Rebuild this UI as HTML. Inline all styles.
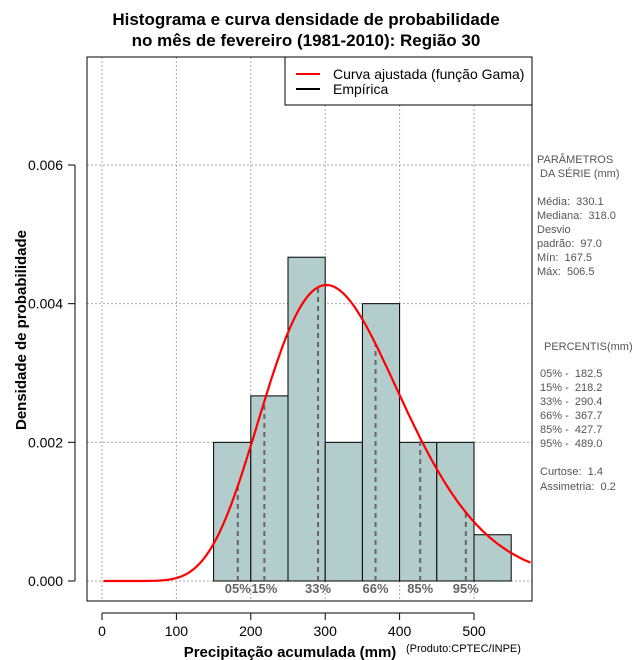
<!DOCTYPE html>
<html><head><meta charset="utf-8">
<style>
body{margin:0;background:#fff;}
svg{display:block;font-family:"Liberation Sans",sans-serif;}
text{white-space:pre;}
</style></head>
<body>
<svg id="chart" width="640" height="660" viewBox="0 0 640 660" xml:space="preserve">
<g id="grid"></g>
<g id="bars"></g>
<g id="pcts"></g>
<path id="curve" fill="none" stroke="#ff0000" stroke-width="2.2"/>
<rect x="87" y="57" width="445" height="544" fill="none" stroke="#000"/>
<g id="axes"></g>
<g font-weight="bold" font-size="17" text-anchor="middle">
<text x="306" y="25">Histograma e curva densidade de probabilidade</text>
<text x="306" y="46">no mês de fevereiro (1981-2010): Região 30</text>
</g>
<text x="290" y="657" font-size="15" font-weight="bold" text-anchor="middle">Precipitação acumulada (mm)</text>
<text x="406" y="652" font-size="11">(Produto:CPTEC/INPE)</text>
<text transform="translate(26,330) rotate(-90)" font-size="15" font-weight="bold" text-anchor="middle">Densidade de probabilidade</text>
<g>
<rect x="285" y="57" width="247" height="48" fill="#fff" stroke="#000"/>
<line x1="296" y1="74" x2="320" y2="74" stroke="#ff0000" stroke-width="2"/>
<line x1="296" y1="89" x2="320" y2="89" stroke="#000" stroke-width="2"/>
<text x="333" y="79" font-size="14">Curva ajustada (função Gama)</text>
<text x="333" y="94" font-size="14">Empírica</text>
</g>
<g font-size="11" fill="#555">
<text x="537" y="163">PARÂMETROS</text>
<text x="537" y="177"> DA SÉRIE (mm)</text>
<text x="537" y="205">Média:  330.1</text>
<text x="537" y="219">Mediana:  318.0</text>
<text x="537" y="233">Desvio</text>
<text x="537" y="247">padrão:  97.0</text>
<text x="537" y="261">Mín:  167.5</text>
<text x="537" y="275">Máx:  506.5</text>
<text x="544" y="350">PERCENTIS(mm)</text>
<text x="540" y="377">05% -  182.5</text>
<text x="540" y="391">15% -  218.2</text>
<text x="540" y="405">33% -  290.4</text>
<text x="540" y="419">66% -  367.7</text>
<text x="540" y="433">85% -  427.7</text>
<text x="540" y="447">95% -  489.0</text>
<text x="540" y="475">Curtose:  1.4</text>
<text x="540" y="490">Assimetria:  0.2</text>
</g>
</svg>
<script>
const binStarts=[150,200,250,300,350,400,450,500];
const binWidth=50;
const densities=[0.002,0.00267,0.00467,0.002,0.004,0.002,0.002,0.000667];
const pctLabels=["05%","15%","33%","66%","85%","95%"];
const pctValues=[182.5,218.2,290.4,367.7,427.7,489.0];
const seriesMean=[330.1];
const seriesSd=[97.0];
const xTicks=[0,100,200,300,400,500];
const yTicks=[0,0.002,0.004,0.006];
const yTickLabels=["0.000","0.002","0.004","0.006"];

const NS="http://www.w3.org/2000/svg";
const X=v=>102+v*0.744;
const Y=v=>581-v*69333;
function mk(tag,attrs,parent){const e=document.createElementNS(NS,tag);for(const k in attrs)e.setAttribute(k,attrs[k]);parent.appendChild(e);return e;}
const k=Math.pow(seriesMean[0]/seriesSd[0],2), th=seriesSd[0]*seriesSd[0]/seriesMean[0];
function lgamma(z){const g=[76.18009172947146,-86.50532032941677,24.01409824083091,-1.231739572450155,0.1208650973866179e-2,-0.5395239384953e-5];let x=z,y=z,t=x+5.5;t-=(x+0.5)*Math.log(t);let s=1.000000000190015;for(let j=0;j<6;j++)s+=g[j]/++y;return -t+Math.log(2.5066282746310005*s/x);}
const lg=lgamma(k);
function pdf(x){if(x<=0)return 0;return Math.exp((k-1)*Math.log(x)-x/th-lg-k*Math.log(th));}

const grid=document.getElementById('grid');
xTicks.forEach(t=>{const l=mk('line',{x1:X(t),x2:X(t),y1:57,y2:601,stroke:'#aaa','stroke-dasharray':'2,2'},grid);

});
yTicks.forEach(t=>{const l=mk('line',{x1:87,x2:532,y1:Y(t),y2:Y(t),stroke:'#aaa','stroke-dasharray':'2,2'},grid);

});

const bars=document.getElementById('bars');
binStarts.forEach((b,i)=>{const r=mk('rect',{x:X(b),y:Y(densities[i]),width:X(b+binWidth)-X(b),height:Y(0)-Y(densities[i]),fill:'#b3cdcd',stroke:'#000','stroke-width':1},bars);

});

const pg=document.getElementById('pcts');
pctValues.forEach((p,i)=>{const l=mk('line',{x1:X(p),x2:X(p),y1:Y(0),y2:Y(pdf(p)),stroke:'#666','stroke-width':2,'stroke-dasharray':'5,4'},pg);


const t=mk('text',{x:X(p),y:593,'text-anchor':'middle','font-size':13,'font-weight':'bold',fill:'#666'},pg);
t.textContent=pctLabels[i];

});

let d='';for(let x=2;x<=580;x+=2){const px=X(x);if(px>532)break;d+=(d?'L':'M')+px.toFixed(1)+','+Y(pdf(x)).toFixed(1);}
document.getElementById('curve').setAttribute('d',d);

const ax=document.getElementById('axes');
mk('line',{x1:X(0),x2:X(500),y1:613,y2:613,stroke:'#000'},ax);
xTicks.forEach(t=>{mk('line',{x1:X(t),x2:X(t),y1:613,y2:620,stroke:'#000'},ax);
const tx=mk('text',{x:X(t),y:636,'text-anchor':'middle','font-size':14},ax);tx.textContent=t;

});
mk('line',{x1:75,x2:75,y1:Y(0),y2:Y(0.006),stroke:'#000'},ax);
yTicks.forEach((t,i)=>{mk('line',{x1:68,x2:75,y1:Y(t),y2:Y(t),stroke:'#000'},ax);
const tx=mk('text',{x:63,y:Y(t)+5,'text-anchor':'end','font-size':14},ax);tx.textContent=yTickLabels[i];

});
</script>
</body></html>
